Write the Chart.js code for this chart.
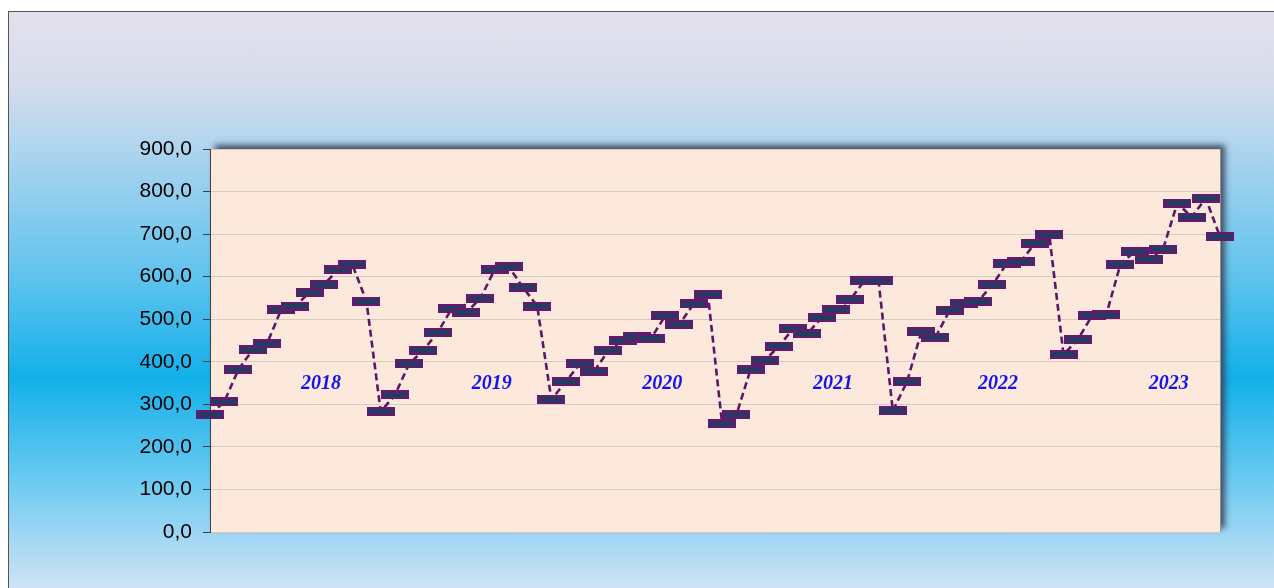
<!DOCTYPE html>
<html>
<head>
  <meta charset="utf-8">
  <script src="https://cdn.jsdelivr.net/npm/chart.js@4.4.1/dist/chart.umd.min.js"></script>
</head>
<body style="padding: 0; margin: 0; background: #fff; font-family: 'Liberation Sans', Arial, sans-serif;">

<div id="frame" style="position: absolute; left: 8px; top: 11px; width: 1280px; height: 590px; border-left: 1px solid #555; border-top: 1px solid #555;
  background: linear-gradient(to bottom, #e4e0ed 0%, #d6dcec 12%, #b6d6ee 21%, #5fc3ee 45%, #12b0ea 62%, #6ecbf1 80%, #acd9f4 91%, #dae7f6 100%);"></div>
<canvas id="chart" width="1274" height="588" style="position: absolute; left: 0; top: 0; width: 1274px; height: 588px;"></canvas>

<script>
  const months = ['Jan', 'Feb', 'Mar', 'Apr', 'May', 'Jun', 'Jul', 'Aug', 'Sep', 'Oct', 'Nov', 'Dec']
  const years = ['2018', '2019', '2020', '2021', '2022', '2023']

  const v2018 = [275, 306, 382, 428, 442, 522, 531, 563, 581, 616, 629, 542]
  const v2019 = [283, 322, 395, 427, 469, 525, 516, 548, 616, 623, 575, 531]
  const v2020 = [311, 353, 395, 378, 426, 450, 460, 455, 508, 488, 536, 558]
  const v2021 = [255, 275, 382, 403, 437, 478, 466, 504, 523, 546, 590, 590]
  const v2022 = [285, 353, 470, 458, 521, 536, 542, 581, 630, 635, 679, 698]
  const v2023 = [417, 452, 508, 510, 629, 659, 641, 665, 773, 740, 784, 694]

  // where the year captions sit, in data terms (point index, value)
  const yearLabelIndex = [7.8, 19.8, 31.8, 43.8, 55.4, 67.4]
  const yearLabelValue = 348

  const labels = []
  years.forEach(y => months.forEach(m => labels.push(m + ' ' + y)))
  const values = [].concat(v2018, v2019, v2020, v2021, v2022, v2023)

  // dash-like marker
  const marker = document.createElement('canvas')
  marker.width = 28
  marker.height = 9
  const mctx = marker.getContext('2d')
  mctx.fillStyle = '#6b1770'
  mctx.fillRect(0, 0, 28, 9)
  mctx.fillStyle = '#233b60'
  mctx.fillRect(2, 2, 24, 5)

  const plotBackground = {
    id: 'plotBackground',
    beforeDraw(chart) {
      const {ctx, chartArea: a} = chart
      ctx.save()
      ctx.shadowColor = 'rgba(50, 60, 80, 0.85)'
      ctx.shadowBlur = 6
      ctx.shadowOffsetX = 5
      ctx.shadowOffsetY = -4
      ctx.fillStyle = '#fde9dc'
      ctx.fillRect(a.left, a.top, a.right - a.left, a.bottom - a.top)
      ctx.restore()
      ctx.save()
      ctx.strokeStyle = '#9a8f88'
      ctx.lineWidth = 1
      ctx.beginPath()
      ctx.moveTo(a.right + 0.5, a.top)
      ctx.lineTo(a.right + 0.5, a.bottom)
      ctx.stroke()
      ctx.restore()
    }
  }

  const yearCaptions = {
    id: 'yearCaptions',
    afterDatasetsDraw(chart) {
      const {ctx, scales: {x, y}} = chart
      ctx.save()
      ctx.font = 'italic bold 20px "Liberation Serif", "DejaVu Serif", serif'
      ctx.fillStyle = '#1414f0'
      ctx.textAlign = 'center'
      ctx.textBaseline = 'middle'
      years.forEach((yr, i) => {
        ctx.fillText(yr, x.getPixelForValue(yearLabelIndex[i]), y.getPixelForValue(yearLabelValue))
      })
      ctx.restore()
    }
  }

  new Chart(document.getElementById('chart').getContext('2d'), {
    type: 'line',
    data: {
      labels: labels,
      datasets: [{
        data: values,
        borderColor: '#5e1566',
        borderWidth: 2.6,
        borderDash: [7, 4],
        fill: false,
        tension: 0,
        pointStyle: marker,
        pointHoverRadius: 0,
        clip: false,
      }]
    },
    options: {
      responsive: false,
      animation: false,
      events: [],
      layout: {padding: {left: 0, top: 149, right: 54, bottom: 56}},
      plugins: {legend: {display: false}, tooltip: {enabled: false}},
      scales: {
        x: {display: false, offset: false},
        y: {
          min: 0,
          max: 900,
          afterFit: scale => { scale.width = 210 },
          ticks: {
            stepSize: 100,
            color: '#000',
            padding: 11,
            font: {family: '"Liberation Sans", Arial, sans-serif', size: 21},
            callback: v => v.toFixed(1).replace('.', ','),
          },
          grid: {color: '#d4cbc4', tickColor: '#404040', tickLength: 7, lineWidth: 1},
          border: {color: '#404040', width: 1},
        }
      }
    },
    plugins: [plotBackground, yearCaptions]
  })
</script>
</body>
</html>
